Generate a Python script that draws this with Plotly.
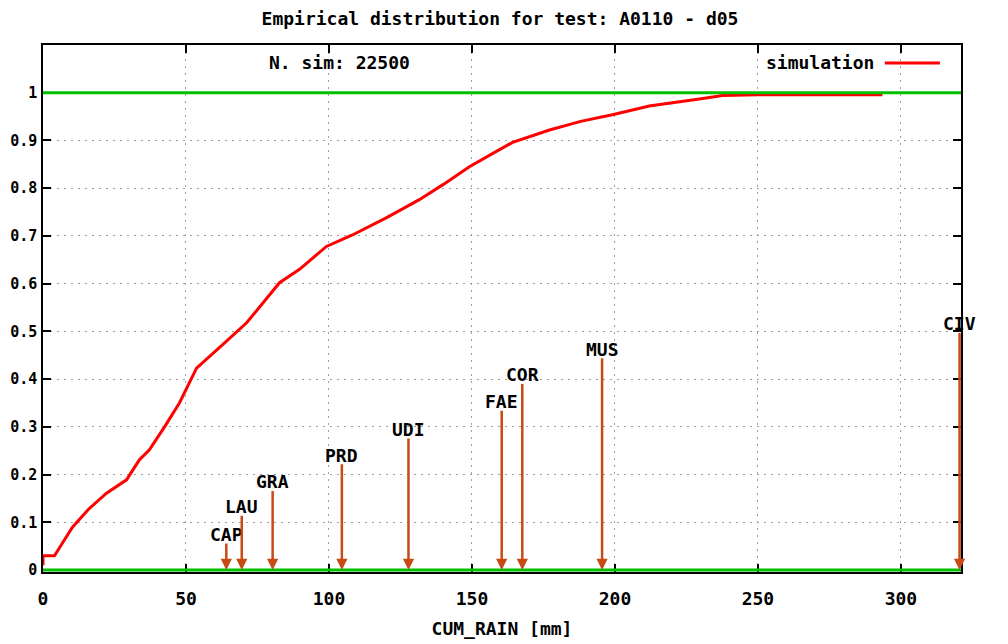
import plotly.graph_objects as go

# --- data ---
cum_rain = [0, 0, 4.0, 10.3, 16, 22.2, 29.2, 33.7, 37.2, 42.5, 47.7, 53.7, 63.5, 71.2,
            82.7, 89.7, 99.1, 108.2, 120, 131.6, 140, 149.1, 157, 164.2, 177.1, 188,
            199.1, 212, 229.5, 237.6, 250, 293.5]
ecdf = [0.01, 0.03, 0.03, 0.090, 0.128, 0.161, 0.189, 0.231, 0.252, 0.30, 0.350, 0.423,
        0.476, 0.518, 0.602, 0.63, 0.678, 0.702, 0.738, 0.776, 0.808, 0.845, 0.872,
        0.896, 0.922, 0.940, 0.954, 0.972, 0.987, 0.994, 0.996, 0.996]

stations = ["CAP", "LAU", "GRA", "PRD", "UDI", "FAE", "COR", "MUS", "CIV"]
station_rain = [64.1, 69.5, 80.3, 104.5, 127.8, 160.4, 167.6, 195.5, 320.5]
arrow_top = [0.059, 0.117, 0.169, 0.225, 0.279, 0.337, 0.393, 0.447, 0.500]

ref_levels = [0, 1]
x_ticks = [0, 50, 100, 150, 200, 250, 300]
y_ticks = [0, 0.1, 0.2, 0.3, 0.4, 0.5, 0.6, 0.7, 0.8, 0.9, 1]
y_ticktext = ["0", "0.1", "0.2", "0.3", "0.4", "0.5", "0.6", "0.7", "0.8", "0.9", "1"]

FONT = "DejaVu Sans Mono"
RED = "#ff0000"
GREEN = "#00c000"
ARROW = "#c84a14"
FS = 18

fig = go.Figure()
fig.add_trace(go.Scatter(x=cum_rain, y=ecdf, mode="lines", name="simulation",
                         line=dict(color=RED, width=3), showlegend=False))

for lv in ref_levels:
    fig.add_shape(type="line", xref="paper", x0=0, x1=1, yref="y", y0=lv, y1=lv,
                  line=dict(color=GREEN, width=3), layer="above")

for name, xv, top in zip(stations, station_rain, arrow_top):
    fig.add_annotation(x=xv, y=0, ax=xv, ay=top, xref="x", yref="y", axref="x", ayref="y",
                       text="", showarrow=True, arrowhead=2, arrowsize=0.9,
                       arrowwidth=2.5, arrowcolor=ARROW, standoff=0, startstandoff=0)
    fig.add_annotation(x=xv, y=top, xref="x", yref="y", text=name, showarrow=False,
                       yanchor="bottom", yshift=-5,
                       font=dict(family=FONT, size=FS, color="black", weight="bold"))

# legend drawn manually (text left of line, as in gnuplot)
fig.add_annotation(x=0.907, y=0.966, xref="paper", yref="paper", text="simulation",
                   showarrow=False, xanchor="right", yanchor="middle",
                   font=dict(family=FONT, size=FS, color="black", weight="bold"))
fig.add_shape(type="line", xref="paper", yref="paper", x0=0.917, x1=0.977, y0=0.966, y1=0.966,
              line=dict(color=RED, width=3))
fig.add_annotation(x=0.3235, y=0.966, xref="paper", yref="paper", text="N. sim: 22500",
                   showarrow=False, xanchor="center", yanchor="middle",
                   font=dict(family=FONT, size=FS, color="black", weight="bold"))

axis_common = dict(showline=True, linecolor="black", linewidth=1.5, mirror="allticks",
                   ticks="inside", ticklen=8, tickcolor="black", tickwidth=1.5,
                   showgrid=True, gridcolor="#a0a0a0", griddash="2px,5px", gridwidth=1,
                   zeroline=False, automargin=False)

fig.update_xaxes(range=[0, 321], tickvals=x_ticks, ticklabelstandoff=10,
                 tickfont=dict(family=FONT, size=FS, color="black", weight="bold"),
                 title=dict(text="CUM_RAIN [mm]", standoff=14,
                            font=dict(family=FONT, size=FS, color="black", weight="bold")),
                 **axis_common)
fig.update_yaxes(range=[-0.004, 1.1], tickvals=y_ticks, ticktext=y_ticktext,
                 ticklabelstandoff=1,
                 tickfont=dict(family=FONT, size=15, color="black", weight="bold"),
                 **axis_common)

# page body has an 8px margin, so the figure is 1000x636 and offset by 8px
fig.update_layout(
    width=1000, height=636,
    margin=dict(l=35, r=47, t=37, b=72, autoexpand=False),
    paper_bgcolor="white", plot_bgcolor="white",
    title=dict(text="Empirical distribution for test: A0110 - d05", x=0.492, xanchor="center",
               xref="container", yref="container", y=0.993, yanchor="top",
               pad=dict(t=0, b=0, l=0, r=0),
               font=dict(family=FONT, size=18, color="black", weight="bold")),
    showlegend=False,
)

fig.write_html("out.html")
